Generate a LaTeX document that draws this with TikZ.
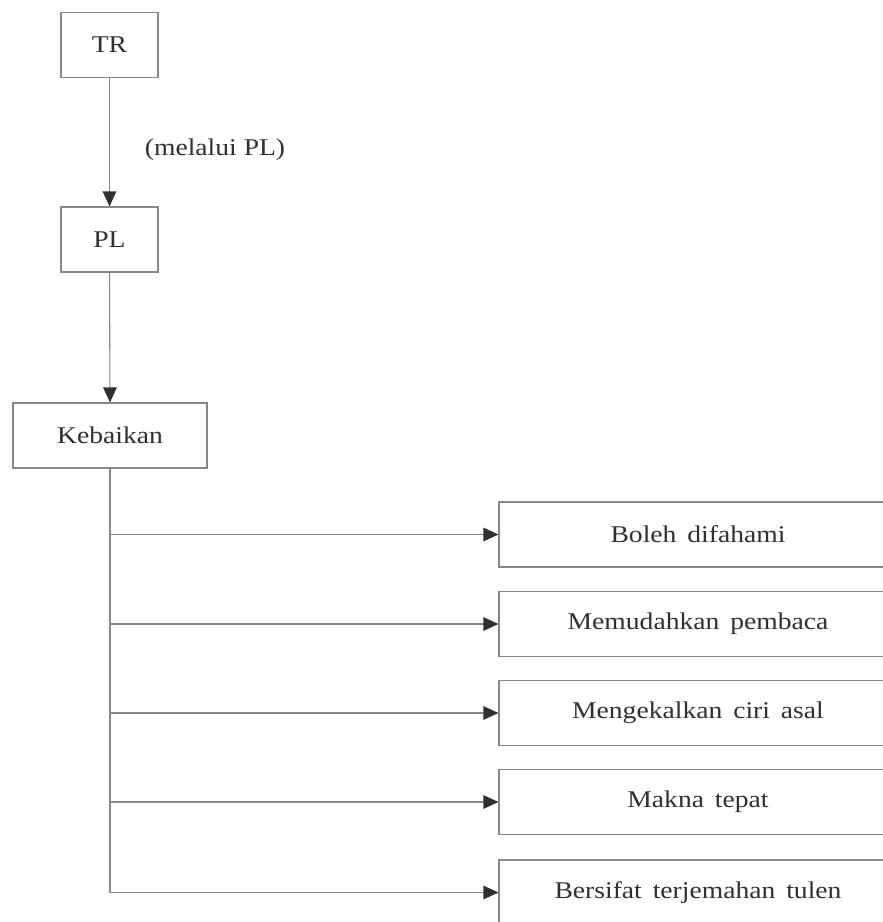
\documentclass[tikz,border=0pt]{standalone}
\usepackage{fontspec}
\setmainfont{Liberation Serif}[FakeStretch=1.15]
\usetikzlibrary{arrows.meta}
\definecolor{ink}{HTML}{303030}
\definecolor{rule}{HTML}{888888}
\tikzset{
  box/.style={draw=rule, line width=1.1pt, minimum height=65pt, inner sep=0pt, text=ink,
    font=\fontsize{24}{28}\selectfont},
  conn/.style={draw=rule, line width=1.1pt},
  arr/.style={conn, -{Triangle[length=15pt,width=13.5pt,color=ink,fill=ink]}},
  lbl/.style={text=ink, font=\fontsize{24}{28}\selectfont, inner sep=0pt}
}
\begin{document}
\begin{tikzpicture}[x=1pt,y=-1pt]
\useasboundingbox (0,0) rectangle (883,922);
\clip (0,0) rectangle (883,922);
\fill[white] (0,0) rectangle (883,922);
\node[box, minimum width=97pt] (tr) at (109.5,45) {TR};
\node[box, minimum width=97pt] (pl) at (109.5,239.5) {PL};
\node[box, minimum width=194pt] (keb) at (110,435.5) {Kebaikan};
\node[lbl, anchor=base] (via) at (215,155) {(melalui PL)};
\node[box, minimum width=398pt] (b1) at (698,534.5) {Boleh\hspace{4pt} difahami};
\node[box, minimum width=398pt] (b2) at (698,624) {Memudahkan\hspace{4pt} pembaca};
\node[box, minimum width=398pt] (b3) at (698,713) {Mengekalkan\hspace{4pt} ciri\hspace{4pt} asal};
\node[box, minimum width=398pt] (b4) at (698,802) {Makna\hspace{4pt} tepat};
\node[box, minimum width=398pt] (b5) at (698,892.5) {Bersifat\hspace{4pt} terjemahan\hspace{4pt} tulen};
\draw[arr] (tr.south) -- (pl.north);
\draw[arr] (pl.south) -- (keb.north);
\draw[conn] (keb.south) -- (keb.south |- b5.west);
\foreach \b in {b1,b2,b3,b4,b5}
  \draw[arr] (keb.south |- \b.west) -- (\b.west);
\end{tikzpicture}
\end{document}
